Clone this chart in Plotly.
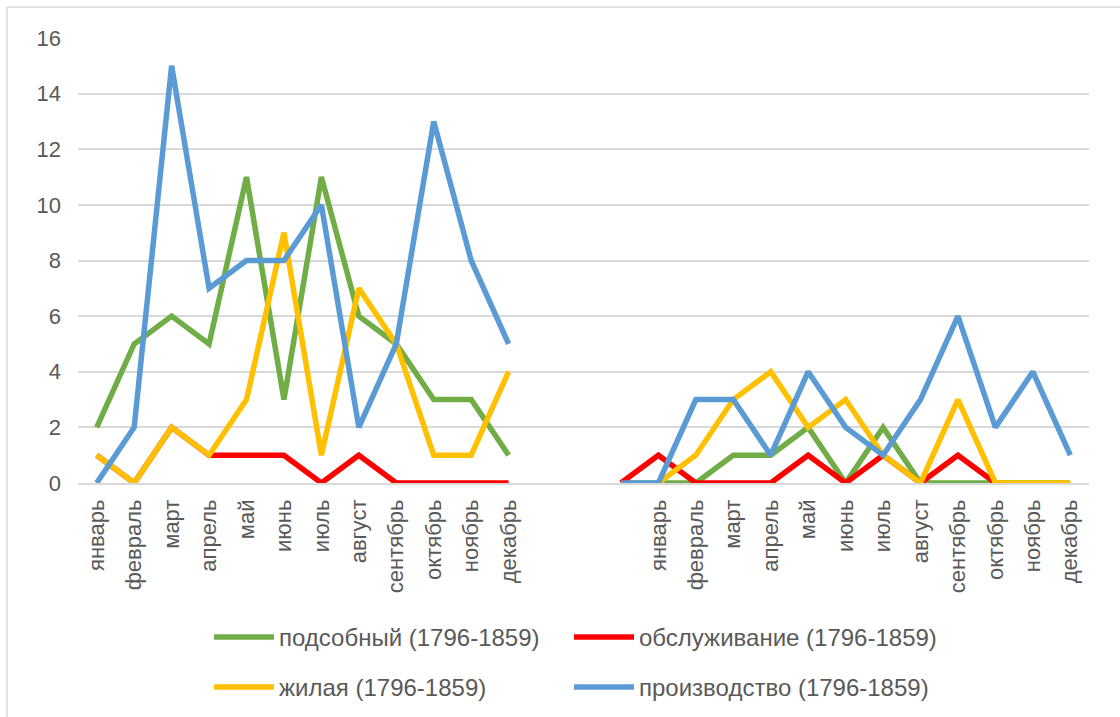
import plotly.graph_objects as go

months = ["январь", "февраль", "март", "апрель", "май", "июнь", "июль",
          "август", "сентябрь", "октябрь", "ноябрь", "декабрь"]
gap_labels = ["", "", ""]
tick_labels = months + gap_labels + months

# left group (12 months)
podsob_left = [2, 5, 6, 5, 11, 3, 11, 6, 5, 3, 3, 1]
obsl_left = [1, 0, 2, 1, 1, 1, 0, 1, 0, 0, 0, 0]
zhil_left = [1, 0, 2, 1, 3, 9, 1, 7, 5, 1, 1, 4]
proizv_left = [0, 2, 15, 7, 8, 8, 10, 2, 5, 13, 8, 5]

# right group (starts at the last blank category, then 12 months)
podsob_right = [0, 0, 0, 1, 1, 2, 0, 2, 0, 0, 0, 0, 0]
obsl_right = [0, 1, 0, 0, 0, 1, 0, 1, 0, 1, 0, None, None]
zhil_right = [None, 0, 1, 3, 4, 2, 3, 1, 0, 3, 0, 0, 0]
proizv_right = [0, 0, 3, 3, 1, 4, 2, 1, 3, 6, 2, 4, 1]

names = ["подсобный (1796-1859)", "обслуживание (1796-1859)",
         "жилая (1796-1859)", "производство (1796-1859)"]
colors = ["#70AD47", "#FF0000", "#FFC000", "#5B9BD5"]
series = [(podsob_left, podsob_right), (obsl_left, obsl_right),
          (zhil_left, zhil_right), (proizv_left, proizv_right)]
legend_ids = ["legend", "legend2", "legend3", "legend4"]

x = list(range(len(tick_labels)))
fig = go.Figure()
for (left, right), name, color, lg in zip(series, names, colors, legend_ids):
    y = left + [None, None] + right
    fig.add_trace(go.Scatter(x=x, y=y, mode="lines", name=name,
                             line=dict(color=color, width=5.5),
                             connectgaps=False, legend=lg))

W, H = 1120, 717
ml, mr, mt, mb = 78, 31, 38, 234
pw, ph = W - ml - mr, H - mt - mb

def px(xp):
    return (xp - ml) / pw

def py(yp):
    return (H - mb - yp) / ph

legend_font = dict(family="Liberation Sans, Arial, sans-serif",
                   size=24, color="#595959")

legend_pos = [(209, 615), (569, 615), (209, 665), (569, 665)]
legend_layout = {}
for lg, (lx, ly) in zip(legend_ids, legend_pos):
    legend_layout[lg] = dict(x=px(lx), y=py(ly), xanchor="left", yanchor="top",
                             font=legend_font, itemwidth=60,
                             bgcolor="rgba(0,0,0,0)")

fig.update_layout(
    width=W, height=H,
    margin=dict(l=ml, r=mr, t=mt, b=mb, autoexpand=False),
    paper_bgcolor="white", plot_bgcolor="white",
    font=dict(family="Liberation Sans, Arial, sans-serif", color="#595959"),
    xaxis=dict(range=[-0.5, len(tick_labels) - 0.5], tickmode="array",
               tickvals=x, ticktext=tick_labels, tickangle=-90,
               tickfont=dict(size=22, color="#595959", family="Liberation Sans, Arial, sans-serif"),
               showgrid=False, showline=True, linecolor="#D9D9D9", linewidth=1.5,
               ticks="", zeroline=False, automargin=False, ticklabelstandoff=6),
    yaxis=dict(range=[0, 16], tickvals=list(range(0, 17, 2)),
               tickfont=dict(size=22, color="#595959", family="Liberation Sans, Arial, sans-serif"),
               showgrid=True, gridcolor="#D9D9D9", gridwidth=1.5,
               zeroline=False, showline=False, ticks="", ticklen=0, automargin=False,
               ticklabelstandoff=16),
    showlegend=True,
    shapes=[
        dict(type="line", xref="paper", yref="paper", x0=px(7), x1=px(1120),
             y0=py(7), y1=py(7), line=dict(color="#D9D9D9", width=1.5)),
        dict(type="line", xref="paper", yref="paper", x0=px(7), x1=px(7),
             y0=py(7), y1=py(717), line=dict(color="#D9D9D9", width=1.5)),
    ],
    **legend_layout,
)

fig.write_html("out.html", config={"displayModeBar": False},
               post_script="document.body.style.margin='0px';document.body.style.overflow='hidden';")
